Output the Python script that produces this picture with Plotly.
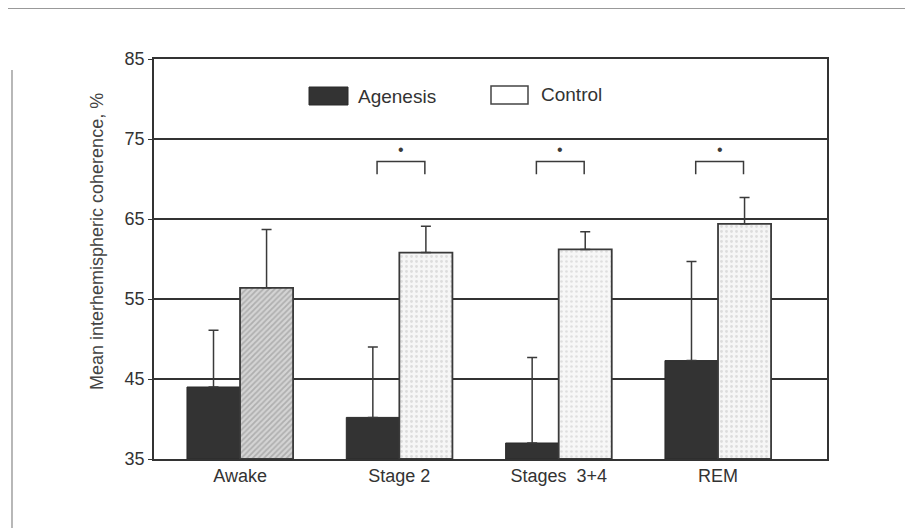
import plotly.graph_objects as go

categories = ["Awake", "Stage 2", "Stages  3+4", "REM"]
agenesis = [44.0, 40.2, 37.0, 47.3]
agenesis_err_top = [51.1, 49.0, 47.7, 59.7]
control = [56.4, 60.8, 61.2, 64.4]
control_err_top = [63.7, 64.1, 63.4, 67.7]
significant = [False, True, True, True]
yticks = [35, 45, 55, 65, 75, 85]

xpos = list(range(len(categories)))
bw = 0.333
FONT = "Liberation Sans, Arial, Helvetica, sans-serif"
INK = "#3a3a3a"

# plot area in screen pixels (page has an 8px body margin)
PL, PR, PT, PB = 154, 827, 59, 459
PW, PH = PR - PL, PB - PT


def px(x):
    return (x - PL) / PW


def py(y):
    return (PB - y) / PH


fig = go.Figure()

fig.add_trace(go.Bar(
    x=xpos, y=[v - 35 for v in agenesis], base=35,
    width=bw, offset=-bw,
    marker=dict(color="#333333", line=dict(color="#2a2a2a", width=1)),
    error_y=dict(type="data", symmetric=False,
                 array=[t - v for t, v in zip(agenesis_err_top, agenesis)],
                 arrayminus=[0] * len(agenesis),
                 color=INK, thickness=1.5, width=5),
    name="Agenesis", showlegend=False,
))

fig.add_trace(go.Bar(
    x=xpos, y=[v - 35 for v in control], base=35,
    width=bw, offset=0,
    marker=dict(
        color="#f4f4f4",
        line=dict(color="#3a3a3a", width=1.8),
        pattern=dict(shape=["/", ".", ".", "."],
                     fgcolor=["#8a8a8a", "#c4c4c4", "#c8c8c8", "#c4c4c4"],
                     bgcolor=["#d4d4d4", "#f6f6f6", "#f7f7f7", "#f6f6f6"],
                     size=[4, 5, 5, 5], solidity=[0.45, 0.25, 0.22, 0.25],
                     fillmode="overlay"),
    ),
    error_y=dict(type="data", symmetric=False,
                 array=[t - v for t, v in zip(control_err_top, control)],
                 arrayminus=[0] * len(control),
                 color=INK, thickness=1.5, width=5),
    name="Control", showlegend=False,
))

shapes = []
annotations = []
# significance brackets
for i, sig in enumerate(significant):
    if not sig:
        continue
    x0, x1 = i - 0.15 + 0.01, i + 0.15 + 0.01
    shapes.append(dict(type="path", xref="x", yref="y",
                       path=f"M {x0},70.6 L {x0},72.2 L {x1},72.2 L {x1},70.6",
                       line=dict(color=INK, width=1.5)))
    annotations.append(dict(x=(x0 + x1) / 2, y=73.7, xref="x", yref="y",
                            text="•", showarrow=False,
                            font=dict(size=16, color=INK, family=FONT)))

# manual legend
shapes.append(dict(type="rect", xref="paper", yref="paper",
                   x0=px(309), x1=px(348), y0=py(105), y1=py(87),
                   fillcolor="#333333", line=dict(color="#2a2a2a", width=1)))
annotations.append(dict(x=px(356), y=py(96), xref="paper", yref="paper",
                        xanchor="left", yanchor="middle", text="Agenesis", showarrow=False,
                        font=dict(size=19, color="#333", family=FONT)))
shapes.append(dict(type="rect", xref="paper", yref="paper",
                   x0=px(491), x1=px(528), y0=py(104), y1=py(86),
                   fillcolor="white", line=dict(color="#444", width=1.5)))
annotations.append(dict(x=px(539), y=py(95), xref="paper", yref="paper",
                        xanchor="left", yanchor="middle", text="Control", showarrow=False,
                        font=dict(size=19, color="#333", family=FONT)))

# y-axis title
annotations.append(dict(x=px(97), y=py(242), xref="paper", yref="paper",
                        text="Mean interhemispheric coherence, %", textangle=-90,
                        showarrow=False, xanchor="center", yanchor="middle",
                        font=dict(size=18, color="#444", family=FONT)))

# scan-edge lines
shapes.append(dict(type="line", xref="paper", yref="paper",
                   x0=px(5), x1=px(913), y0=py(8), y1=py(8),
                   line=dict(color="#777", width=1.5)))
shapes.append(dict(type="line", xref="paper", yref="paper",
                   x0=px(12), x1=px(12), y0=py(70), y1=py(528),
                   line=dict(color="#888", width=1.2)))
shapes.append(dict(type="line", xref="paper", yref="paper",
                   x0=px(911), x1=px(911), y0=py(40), y1=py(240),
                   line=dict(color="#bbb", width=1)))
shapes.append(dict(type="line", xref="paper", yref="paper",
                   x0=px(911), x1=px(911), y0=py(375), y1=py(480),
                   line=dict(color="#999", width=1)))

OFF = 8  # default page body margin
fig.update_layout(
    width=913, height=531,
    margin=dict(l=PL - OFF, r=913 - (PR - OFF), t=PT - OFF, b=531 - (PB - OFF)),
    paper_bgcolor="white", plot_bgcolor="white",
    barmode="overlay",
    shapes=shapes, annotations=annotations,
    font=dict(family=FONT, color="#333"),
)
fig.update_xaxes(
    range=[-0.54, 3.684], tickmode="array", tickvals=xpos, ticktext=categories,
    showgrid=False, zeroline=False, showline=True, mirror=True,
    linecolor="#333", linewidth=1.5, ticks="", ticklen=0,
    tickfont=dict(size=18, color="#333", family=FONT),
)
fig.update_yaxes(
    range=[35, 85], tickmode="array", tickvals=yticks,
    showgrid=True, gridcolor="#333", gridwidth=1.5, zeroline=False,
    showline=True, mirror=True, linecolor="#333", linewidth=1.5,
    ticks="outside", ticklen=4, tickcolor="#333", tickwidth=1,
    tickfont=dict(size=18, color="#333", family=FONT),
)

fig.write_html("out.html")
